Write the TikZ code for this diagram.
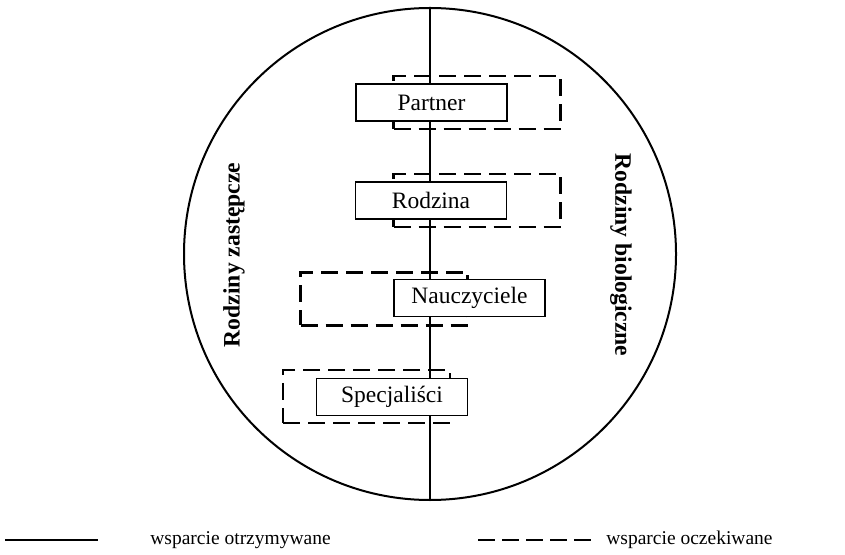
\documentclass[tikz,border=0pt]{standalone}
\usepackage{fontspec}
\setmainfont{Liberation Serif}
\usetikzlibrary{positioning}
\tikzset{every picture/.style={x=0.5pt,y=-0.5pt},
  circ/.style={draw,circle,line width=1pt,minimum size=246pt,inner sep=0pt},
  sbox/.style={draw,fill=white,line width=0.75pt,minimum width=75.5pt,minimum height=18.5pt,inner sep=0pt,font=\fontsize{11.75}{14}\selectfont},
  dbox/.style={draw,line width=1.2pt,dash pattern=on 8.5pt off 4pt,minimum width=83.5pt,minimum height=26.5pt,inner sep=0pt},
  side/.style={font=\fontsize{11.8}{14}\selectfont\bfseries},
  legend/.style={font=\fontsize{9.75}{12}\selectfont,anchor=west,inner sep=0pt}}

\begin{document}
\begin{tikzpicture}
\useasboundingbox (0,0) rectangle (845,555);
\node[circ] (ring) at (430,254) {};
\draw[line width=1pt] (ring.north) -- (ring.south);
% oczekiwane
\node[dbox] (partnerE) at (477,102.5) {};
\node[dbox] (rodzinaE) at (477,200.5) {};
\node[dbox] (nauczE) at (384,299) {};
\node[dbox] (specE) at (366.5,396.5) {};
% otrzymywane
\node[sbox] (partner) at (431.5,102.5) {Partner};
\node[sbox] (rodzina) at (431,200.5) {Rodzina};
\node[sbox] (naucz) at (469.5,298) {Nauczyciele};
\node[sbox] (spec) at (392,397) {Specjaliści};
\node[side,rotate=90] (zast) at (234,255) {Rodziny zastępcze};
\node[side,rotate=-90] (biol) at (621,255) {Rodziny biologiczne};
% legenda
\coordinate (solA) at (5,540);
\coordinate (solB) at (98,540);
\coordinate (dasA) at (478,540);
\coordinate (dasB) at (592,540);
\draw[line width=1pt] (solA) -- (solB);
\draw[line width=1.2pt,dash pattern=on 8.5pt off 3.5pt] (dasA) -- (dasB);
\node[legend] (otrz) at (150,540) {wsparcie otrzymywane};
\node[legend] (ocze) at (606,540) {wsparcie oczekiwane};
\end{tikzpicture}
\end{document}
